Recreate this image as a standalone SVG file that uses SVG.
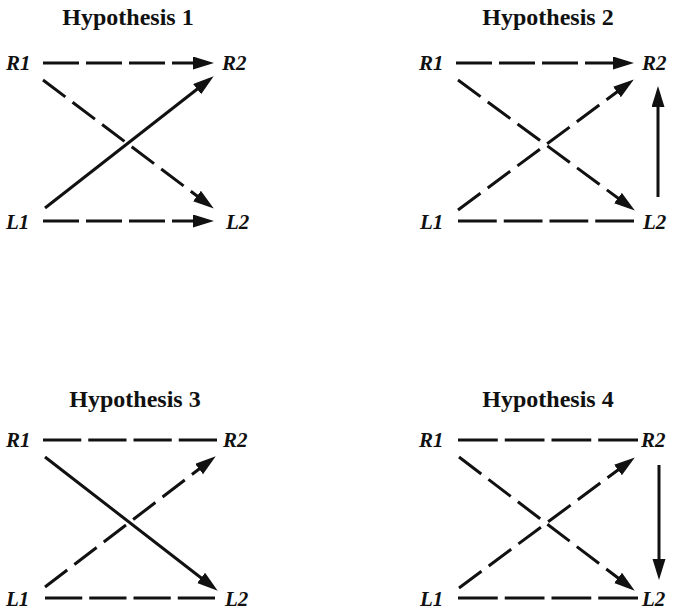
<svg xmlns="http://www.w3.org/2000/svg" width="673" height="612" viewBox="0 0 673 612">
<style>
.title{font-family:"Liberation Serif","Times New Roman",serif;font-weight:bold;font-size:24px;fill:#111;text-anchor:middle}
.lbl{font-family:"Liberation Serif","Times New Roman",serif;font-weight:bold;font-style:italic;font-size:21px;fill:#111}
.c{stroke:#111;stroke-width:3;fill:none}
.dh{stroke-dasharray:36 7}
.dd{stroke-dasharray:28 9}
</style>
<defs>
<marker id="ah" markerUnits="userSpaceOnUse" markerWidth="22" markerHeight="14" refX="10" refY="6.5" orient="auto">
<path d="M0,0 L21,6.5 L0,13 Z" fill="#111"/>
</marker>
</defs>
<rect width="673" height="612" fill="#fff"/>

<!-- Hypothesis 1 -->
<g id="h1">
<text class="title" x="128" y="25">Hypothesis 1</text>
<g id="h1-R1"><text class="lbl" x="6" y="70">R1</text></g>
<g id="h1-R2"><text class="lbl" x="222" y="70">R2</text></g>
<g id="h1-L1"><text class="lbl" x="6" y="229">L1</text></g>
<g id="h1-L2"><text class="lbl" x="226" y="229">L2</text></g>
</g>
<!-- Hypothesis 2 -->
<g id="h2">
<text class="title" x="548" y="25">Hypothesis 2</text>
<g id="h2-R1"><text class="lbl" x="419" y="70">R1</text></g>
<g id="h2-R2"><text class="lbl" x="642" y="70">R2</text></g>
<g id="h2-L1"><text class="lbl" x="420" y="229">L1</text></g>
<g id="h2-L2"><text class="lbl" x="643" y="229">L2</text></g>
</g>
<!-- Hypothesis 3 -->
<g id="h3">
<text class="title" x="135" y="407">Hypothesis 3</text>
<g id="h3-R1"><text class="lbl" x="6" y="447">R1</text></g>
<g id="h3-R2"><text class="lbl" x="223" y="447">R2</text></g>
<g id="h3-L1"><text class="lbl" x="6" y="606">L1</text></g>
<g id="h3-L2"><text class="lbl" x="225" y="606">L2</text></g>
</g>
<!-- Hypothesis 4 -->
<g id="h4">
<text class="title" x="548" y="407">Hypothesis 4</text>
<g id="h4-R1"><text class="lbl" x="419" y="447">R1</text></g>
<g id="h4-R2"><text class="lbl" x="641" y="447">R2</text></g>
<g id="h4-L1"><text class="lbl" x="420" y="606">L1</text></g>
<g id="h4-L2"><text class="lbl" x="642" y="606">L2</text></g>
</g>

<g id="connectors">
<!-- H1 -->
<line class="c dh" x1="43" y1="63" x2="203" y2="63" marker-end="url(#ah)"/>
<line class="c dh" x1="43" y1="221" x2="203" y2="221" marker-end="url(#ah)"/>
<line class="c dd" x1="43" y1="80" x2="205" y2="202" marker-end="url(#ah)"/>
<line class="c" x1="45" y1="208" x2="205" y2="83" marker-end="url(#ah)"/>
<!-- H2 -->
<line class="c dh" x1="456" y1="63" x2="623" y2="63" marker-end="url(#ah)"/>
<line class="c" style="stroke-dasharray:38.75 7" x1="458" y1="221" x2="634" y2="221"/>
<line class="c dd" x1="458" y1="80" x2="626" y2="204" marker-end="url(#ah)"/>
<line class="c dd" x1="458" y1="210" x2="625" y2="86" marker-end="url(#ah)"/>
<line class="c" x1="658" y1="197" x2="658" y2="97" marker-end="url(#ah)"/>
<!-- H3 -->
<line class="c" style="stroke-dasharray:38.25 7" x1="43" y1="440" x2="217" y2="440"/>
<line class="c" style="stroke-dasharray:37.25 7" x1="45" y1="598" x2="215" y2="598"/>
<line class="c" x1="45" y1="457" x2="209" y2="584" marker-end="url(#ah)"/>
<line class="c dd" x1="45" y1="587" x2="207" y2="463" marker-end="url(#ah)"/>
<!-- H4 -->
<line class="c" style="stroke-dasharray:39.75 7" x1="458" y1="440" x2="638" y2="440"/>
<line class="c" style="stroke-dasharray:39.75 7" x1="458" y1="598" x2="638" y2="598"/>
<line class="c dd" x1="459" y1="457" x2="626" y2="584" marker-end="url(#ah)"/>
<line class="c dd" x1="459" y1="588" x2="626" y2="464" marker-end="url(#ah)"/>
<line class="c" x1="659" y1="465" x2="659" y2="569" marker-end="url(#ah)"/>
</g>
</svg>
